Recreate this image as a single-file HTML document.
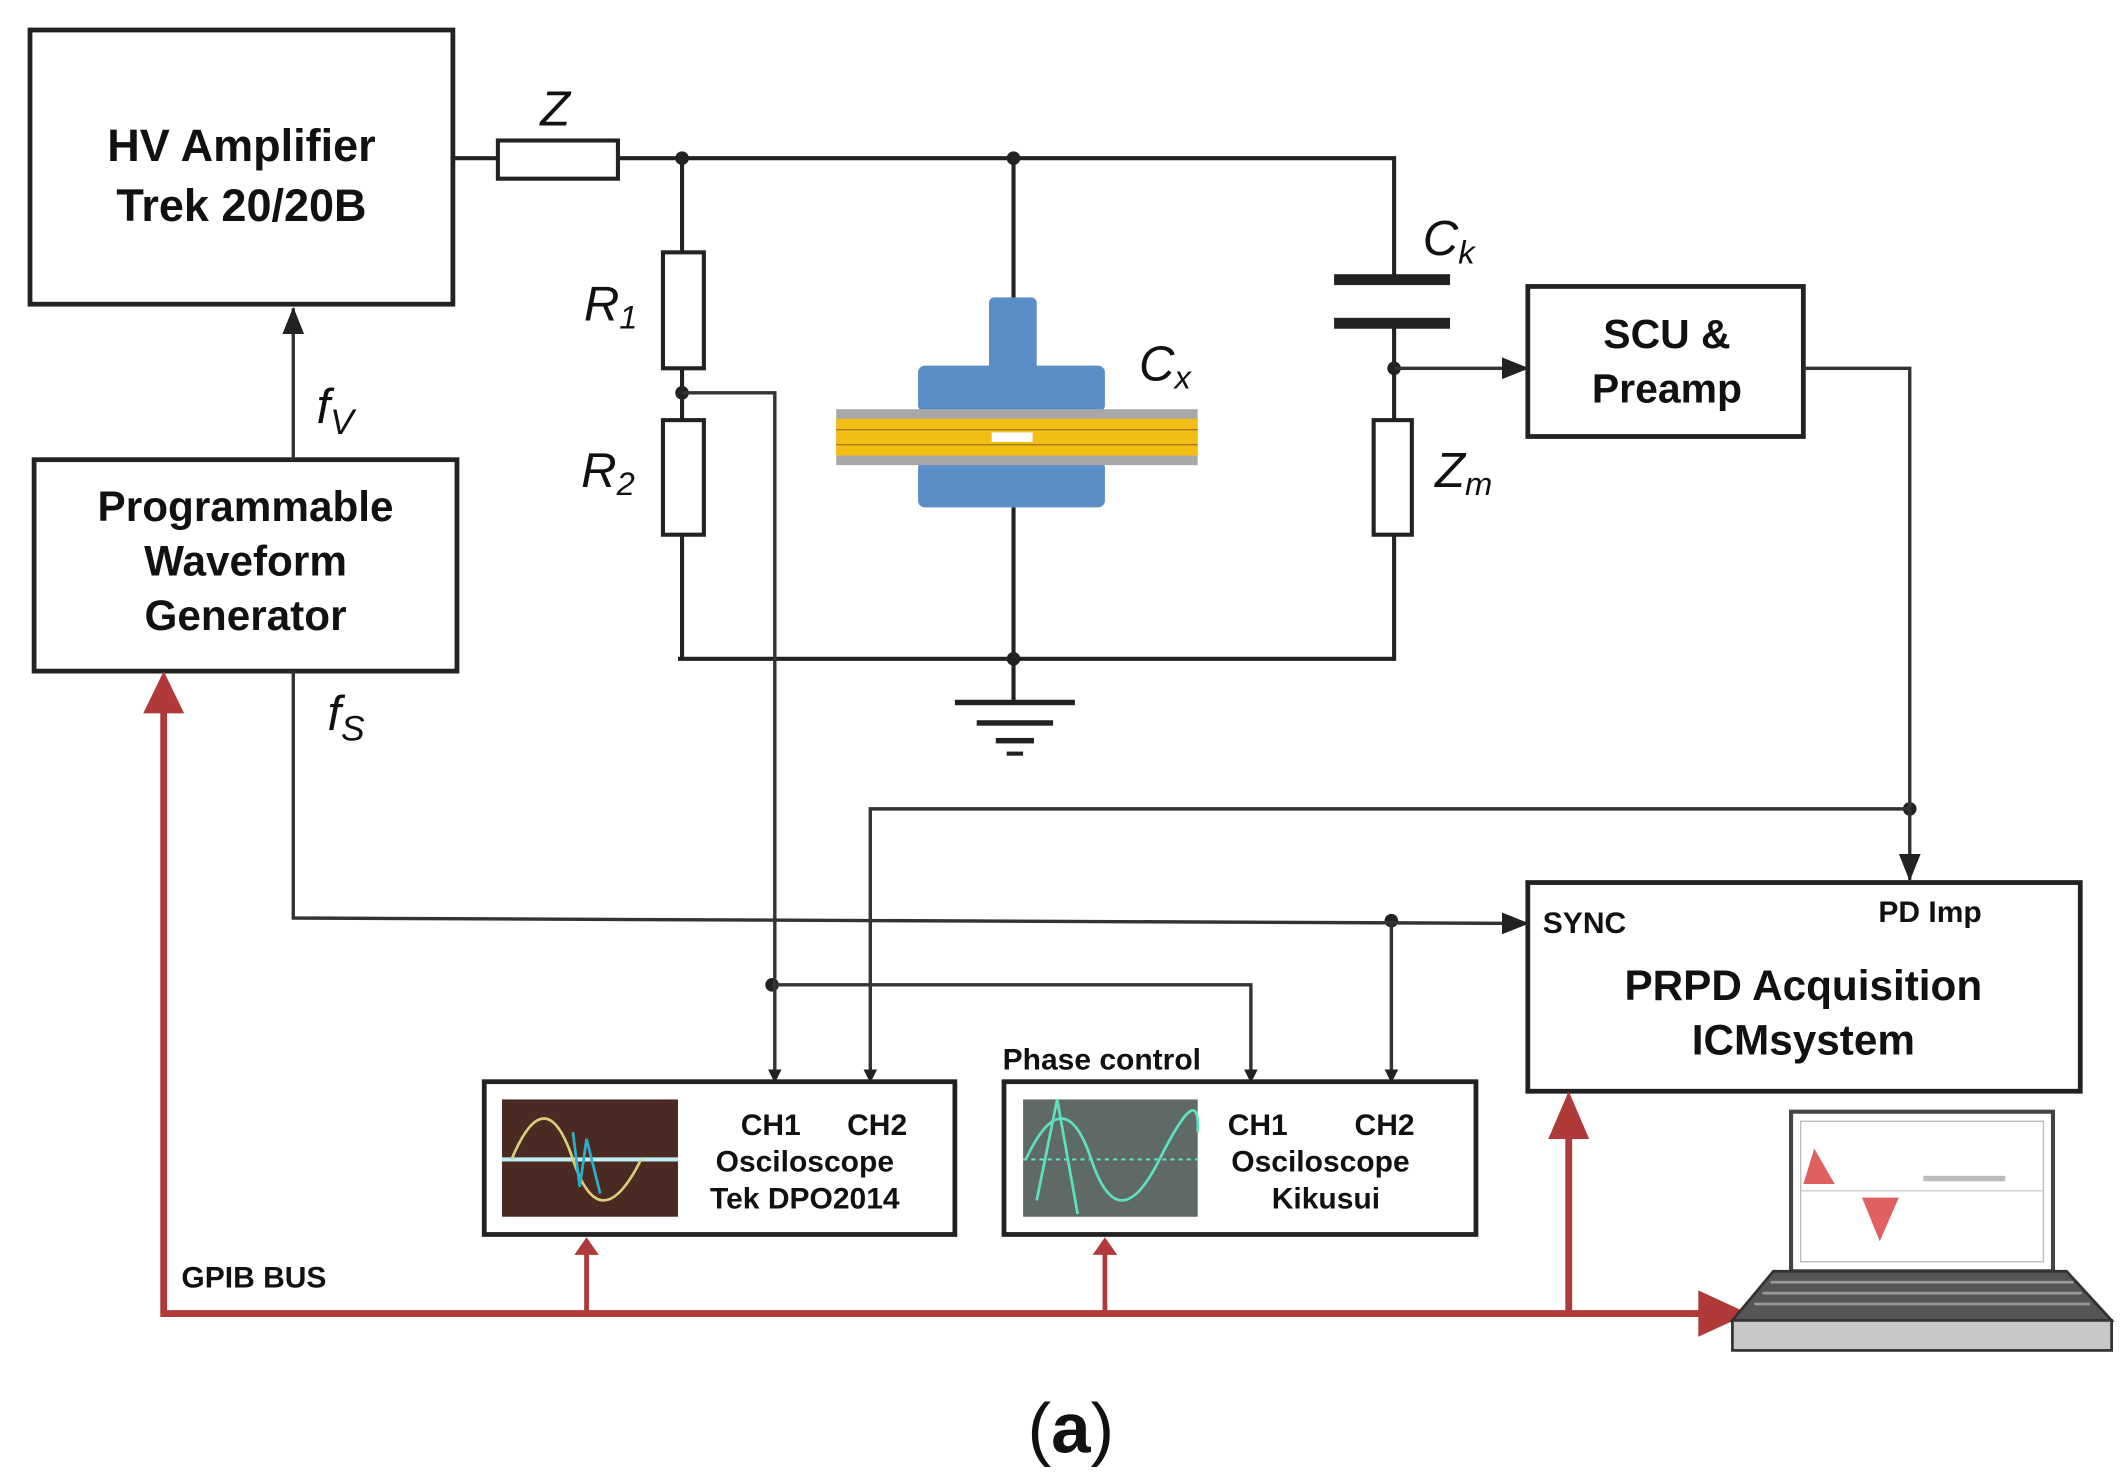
<!DOCTYPE html>
<html><head><meta charset="utf-8"><style>
html,body{margin:0;padding:0;background:#fff;}
svg{display:block;}
text{font-family:"Liberation Sans",Arial,sans-serif;}
</style></head><body>
<svg width="2128" height="1480" viewBox="0 0 1560 1085" preserveAspectRatio="none" xmlns="http://www.w3.org/2000/svg">
<defs>
<marker id="ab" markerWidth="10" markerHeight="10" refX="9" refY="5" orient="auto" markerUnits="userSpaceOnUse"><path d="M0,0 L10,5 L0,10 z" fill="#222"/></marker>
<marker id="abL" markerWidth="20" markerHeight="20" refX="19" refY="10" orient="auto" markerUnits="userSpaceOnUse"><path d="M0,2 L20,10 L0,18 z" fill="#222"/></marker>
</defs>
<g fill="none" stroke="#222" stroke-width="3">
<!-- boxes -->
<rect x="22" y="22" width="310" height="201" stroke-width="3.5"/>
<rect x="25" y="337" width="310" height="155" stroke-width="3.5"/>
<rect x="1120" y="210" width="202" height="110" stroke-width="3.5"/>
<rect x="1120" y="647" width="405" height="153" stroke-width="3.5"/>
<rect x="355" y="793" width="345" height="112" stroke-width="3.5"/>
<rect x="736" y="793" width="346" height="112" stroke-width="3.5"/>
<!-- HV circuit -->
<line x1="332" y1="116" x2="365" y2="116"/>
<rect x="365" y="103" width="88" height="28" fill="#fff"/>
<polyline points="453,116 1022,116 1022,205"/>
<line x1="1022" y1="237" x2="1022" y2="308"/>
<rect x="1007" y="308" width="28" height="84"/>
<polyline points="1022,392 1022,483 497,483"/>
<line x1="500" y1="116" x2="500" y2="185"/>
<rect x="486" y="185" width="30" height="85"/>
<line x1="500" y1="270" x2="500" y2="308"/>
<rect x="486" y="308" width="30" height="84"/>
<line x1="500" y1="392" x2="500" y2="483"/>
<line x1="743" y1="116" x2="743" y2="220"/>
<line x1="743" y1="372" x2="743" y2="515"/>
</g>
<!-- capacitor plates -->
<rect x="978" y="201" width="85" height="8" fill="#222"/>
<rect x="978" y="233" width="85" height="8" fill="#222"/>
<!-- ground -->
<rect x="700" y="513" width="88" height="4" fill="#222"/>
<rect x="716" y="528" width="56" height="4" fill="#222"/>
<rect x="730" y="541" width="28" height="4" fill="#222"/>
<rect x="738" y="551" width="12" height="3" fill="#222"/>
<!-- Cx object -->
<rect x="725" y="218" width="35" height="55" rx="4" fill="#5b8ec6"/>
<rect x="673" y="268" width="137" height="34" rx="5" fill="#5b8ec6"/>
<rect x="673" y="338" width="137" height="34" rx="5" fill="#5b8ec6"/>
<rect x="613" y="300" width="265" height="41" fill="#a8a8a8"/>
<rect x="613" y="307" width="265" height="27" fill="#f2be13"/>
<line x1="613" y1="315" x2="878" y2="315" stroke="#a07c10" stroke-width="1"/>
<line x1="613" y1="326" x2="878" y2="326" stroke="#a07c10" stroke-width="1"/>
<rect x="727" y="317" width="30" height="7" fill="#fff"/>
<!-- dots -->
<g fill="#222">
<circle cx="500" cy="116" r="5"/><circle cx="743" cy="116" r="5"/>
<circle cx="500" cy="288" r="5"/><circle cx="1022" cy="270" r="5"/>
<circle cx="743" cy="483" r="5"/><circle cx="1400" cy="593" r="5"/>
<circle cx="1020" cy="675" r="5"/><circle cx="566" cy="722" r="5"/>
</g>
<!-- signal wires -->
<g fill="none" stroke="#333" stroke-width="2.5">
<line x1="215" y1="337" x2="215" y2="226" marker-end="url(#abL)"/>
<line x1="1022" y1="270" x2="1120" y2="270" marker-end="url(#abL)"/>
<polyline points="1322,270 1400,270 1400,645" marker-end="url(#abL)"/>
<polyline points="1400,593 638,593 638,793" marker-end="url(#ab)"/>
<polyline points="500,288 568,288 568,793" marker-end="url(#ab)"/>
<polyline points="566,722 917,722 917,793" marker-end="url(#ab)"/>
<polyline points="215,492 215,673 1120,677" marker-end="url(#abL)"/>
<line x1="1020" y1="675" x2="1020" y2="793" marker-end="url(#ab)"/>
</g>
<!-- red bus -->
<g stroke="#b03a3a" stroke-width="5" fill="none">
<polyline points="120,520 120,963 1250,963"/>
<line x1="430" y1="963" x2="430" y2="918" stroke-width="3.5"/>
<line x1="810" y1="963" x2="810" y2="918" stroke-width="3.5"/>
<line x1="1150" y1="963" x2="1150" y2="830"/>
</g>
<g fill="#b03a3a">
<path d="M105,523 L120,492 L135,523 z"/>
<path d="M1135,835 L1150,800 L1165,835 z"/>
<path d="M1245,946 L1282,963 L1245,980 z"/>
<path d="M421,920 L430,907 L439,920 z"/>
<path d="M801,920 L810,907 L819,920 z"/>
</g>
<!-- scope images -->
<rect x="368" y="806" width="129" height="86" fill="#4a2a22"/>
<path d="M368,850 L497,850" stroke="#bfeef0" stroke-width="3"/>
<path d="M375,850 Q400,790 420,850 T470,850" stroke="#d8cf7a" stroke-width="2" fill="none"/>
<path d="M420,830 L425,870 L430,835 L440,875" stroke="#2ab0c8" stroke-width="2" fill="none"/>
<rect x="750" y="806" width="128" height="86" fill="#5f6a66"/>
<path d="M752,850 Q780,790 800,850 T850,850 T878,830" stroke="#5fe0c0" stroke-width="2" fill="none"/>
<path d="M760,880 L775,806 L790,890" stroke="#5fe0c0" stroke-width="2" fill="none"/>
<line x1="750" y1="850" x2="878" y2="850" stroke="#5fe0c0" stroke-width="1.5" stroke-dasharray="3,3"/>
<!-- laptop -->
<rect x="1313" y="815" width="192" height="117" fill="#fff" stroke="#444" stroke-width="3"/>
<rect x="1320" y="822" width="178" height="103" fill="#fff" stroke="#bbb" stroke-width="1"/>
<line x1="1320" y1="873" x2="1498" y2="873" stroke="#ccc" stroke-width="1"/>
<path d="M1322,868 L1330,842 L1345,868 z" fill="#e06060"/>
<path d="M1365,878 L1392,878 L1378,910 z" fill="#e06060"/>
<rect x="1410" y="862" width="60" height="4" fill="#bbb"/>
<path d="M1300,932 L1515,932 L1548,968 L1270,968 z" fill="#555" stroke="#333" stroke-width="2"/>
<g stroke="#999" stroke-width="2"><line x1="1298" y1="940" x2="1520" y2="940"/><line x1="1292" y1="948" x2="1526" y2="948"/><line x1="1286" y1="956" x2="1532" y2="956"/></g>
<rect x="1270" y="968" width="278" height="22" fill="#c8c8c8" stroke="#333" stroke-width="2"/>
<!-- text -->
<g fill="#111" font-weight="bold" text-anchor="middle">
<text x="177" y="118" font-size="33">HV Amplifier</text>
<text x="177" y="162" font-size="33">Trek 20/20B</text>
<text x="180" y="382" font-size="31">Programmable</text>
<text x="180" y="422" font-size="31">Waveform</text>
<text x="180" y="462" font-size="31">Generator</text>
<text x="1222" y="255" font-size="30">SCU &amp;</text>
<text x="1222" y="295" font-size="30">Preamp</text>
<text x="1322" y="733" font-size="31">PRPD Acquisition</text>
<text x="1322" y="773" font-size="31">ICMsystem</text>
<text x="565" y="832" font-size="22">CH1</text>
<text x="643" y="832" font-size="22">CH2</text>
<text x="590" y="859" font-size="22">Osciloscope</text>
<text x="590" y="886" font-size="22">Tek DPO2014</text>
<text x="922" y="832" font-size="22">CH1</text>
<text x="1015" y="832" font-size="22">CH2</text>
<text x="968" y="859" font-size="22">Osciloscope</text>
<text x="972" y="886" font-size="22">Kikusui</text>
</g>
<g fill="#111" font-weight="bold" font-size="22">
<text x="1131" y="684">SYNC</text>
<text x="1377" y="676">PD Imp</text>
<text x="735" y="784">Phase control</text>
<text x="133" y="944">GPIB  BUS</text>
</g>
<g fill="#111" font-style="italic" font-size="36">
<text x="396" y="92">Z</text>
<text x="428" y="235">R<tspan font-size="24" dy="6">1</tspan></text>
<text x="426" y="357">R<tspan font-size="24" dy="6">2</tspan></text>
<text x="1043" y="187">C<tspan font-size="24" dy="6">k</tspan></text>
<text x="835" y="279">C<tspan font-size="24" dy="6">x</tspan></text>
<text x="1052" y="357">Z<tspan font-size="24" dy="6">m</tspan></text>
<text x="232" y="310">f<tspan font-size="26" dy="8">V</tspan></text>
<text x="240" y="535">f<tspan font-size="26" dy="8">S</tspan></text>
</g>
<text x="785" y="1065" text-anchor="middle" font-family="Liberation Serif,serif" font-size="52" fill="#111">(<tspan font-weight="bold">a</tspan>)</text>
</svg>
</body></html>
